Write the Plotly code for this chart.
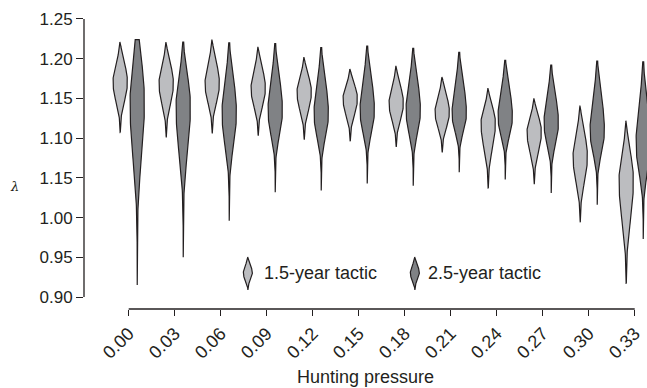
import numpy as np
import plotly.graph_objects as go

# ---------------- data ----------------
pressures = ["0.00", "0.03", "0.06", "0.09", "0.12", "0.15",
             "0.18", "0.21", "0.24", "0.27", "0.30", "0.33"]

# 1.5-year tactic: lower end, densest value, upper end of each violin
light_min = [1.107, 1.101, 1.106, 1.103, 1.098, 1.096, 1.089, 1.082, 1.037, 1.042, 0.994, 0.917]
light_mode = [1.171, 1.169, 1.169, 1.163, 1.158, 1.150, 1.144, 1.133, 1.119, 1.108, 1.077, 1.047]
light_max = [1.221, 1.221, 1.224, 1.215, 1.202, 1.187, 1.191, 1.177, 1.163, 1.150, 1.141, 1.122]

# 2.5-year tactic
dark_min = [0.915, 0.950, 0.996, 1.032, 1.034, 1.043, 1.040, 1.057, 1.048, 1.031, 1.016, 0.973]
dark_mode = [1.145, 1.140, 1.132, 1.135, 1.131, 1.135, 1.135, 1.131, 1.127, 1.119, 1.110, 1.094]
dark_max = [1.224, 1.221, 1.220, 1.219, 1.214, 1.216, 1.213, 1.208, 1.198, 1.192, 1.197, 1.196]

ytick_vals = [0.90, 0.95, 1.00, 1.05, 1.10, 1.15, 1.20, 1.25]
ytick_text = ["0.90", "0.95", "1.00", "1.15", "1.10", "1.15", "1.20", "1.25"]

series_names = ["1.5-year tactic", "2.5-year tactic"]

# ---------------- styles ----------------
FONT = "Liberation Sans, Arial, sans-serif"
INK = "#231f20"
LIGHT = "#bcbdc0"
DARK = "#808285"
OFFSET = 0.185      # half distance between the two violins of a pair
HALF_W = 0.155      # max half width of a violin (x units)


def violin_outline(center, lo, mode, hi, half_w, k_lo, k_up, p=2.3, n=110):
    y = np.linspace(lo, hi, n)
    s_lo = (mode - lo) / k_lo
    s_up = (hi - mode) / k_up
    s = np.where(y < mode, s_lo, s_up)
    w = half_w * np.exp(-0.5 * np.abs((y - mode) / s) ** p)
    xs = np.concatenate([center + w, (center - w)[::-1], [center + w[0]]])
    ys = np.concatenate([y, y[::-1], [y[0]]])
    return xs, ys


fig = go.Figure()

for i in range(len(pressures)):
    xs, ys = violin_outline(i - OFFSET, light_min[i], light_mode[i], light_max[i],
                            HALF_W, 2.6, 2.2)
    fig.add_trace(go.Scatter(x=xs, y=ys, mode="lines", fill="toself",
                             fillcolor=LIGHT, line=dict(color=INK, width=1.2),
                             showlegend=False, hoverinfo="skip"))
    k_up = 1.5 if i == 0 else 2.1
    xs, ys = violin_outline(i + OFFSET, dark_min[i], dark_mode[i], dark_max[i],
                            HALF_W, 3.3, k_up)
    fig.add_trace(go.Scatter(x=xs, y=ys, mode="lines", fill="toself",
                             fillcolor=DARK, line=dict(color=INK, width=1.2),
                             showlegend=False, hoverinfo="skip"))

# ---------------- custom legend (violin-shaped keys) ----------------
legend_key_x = [2.59, 6.22]
legend_text_x = [2.90, 6.46]
legend_cols = [LIGHT, DARK]
for kx, tx, col, name in zip(legend_key_x, legend_text_x, legend_cols, series_names):
    xs, ys = violin_outline(kx, 0.9088, 0.930, 0.9504, 0.098, 2.6, 2.2)
    fig.add_trace(go.Scatter(x=xs, y=ys, mode="lines", fill="toself",
                             fillcolor=col, line=dict(color=INK, width=1.2),
                             showlegend=False, hoverinfo="skip"))
    fig.add_annotation(x=tx, y=0.930, xref="x", yref="y", text=name,
                       showarrow=False, xanchor="left", yanchor="middle",
                       font=dict(family=FONT, size=18, color=INK))

# axis lines limited to the tick span
fig.add_shape(type="line", xref="x", yref="paper", x0=0, x1=len(pressures) - 1,
              y0=0, y1=0, line=dict(color=INK, width=1.3))
fig.add_shape(type="line", xref="paper", yref="y", x0=0, x1=0,
              y0=ytick_vals[0], y1=ytick_vals[-1], line=dict(color=INK, width=1.3))

fig.add_annotation(x=0.0, y=0.0, xref="paper", yref="paper", text="<i>λ</i>",
                   showarrow=False, xshift=-76, yshift=113,
                   font=dict(family="DejaVu Serif, serif", size=13, color=INK))

fig.update_layout(
    width=647, height=388,
    margin=dict(l=84, r=0, t=10, b=79),
    paper_bgcolor="white", plot_bgcolor="white",
    font=dict(family=FONT, size=18, color=INK),
    showlegend=False,
    xaxis=dict(
        range=[-0.972, 11.267],
        tickmode="array", tickvals=list(range(len(pressures))), ticktext=pressures,
        tickangle=-45, ticks="outside", ticklen=6, tickwidth=1.3, tickcolor=INK,
        showline=False, showgrid=False, zeroline=False,
        tickfont=dict(family=FONT, size=18, color=INK),
        title=dict(text="Hunting pressure", font=dict(family=FONT, size=18, color=INK),
                   standoff=8),
    ),
    yaxis=dict(
        range=[0.8849, 1.2613],
        tickmode="array", tickvals=ytick_vals, ticktext=ytick_text,
        ticks="outside", ticklen=7, tickwidth=1.3, tickcolor=INK,
        showline=False, showgrid=False, zeroline=False,
        tickfont=dict(family=FONT, size=17, color=INK),
    ),
)

fig.write_html("out.html")
